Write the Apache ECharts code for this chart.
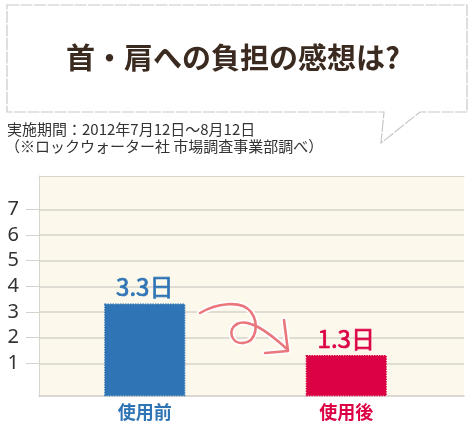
<!DOCTYPE html>
<html><head><meta charset="utf-8">
<script src="https://cdn.jsdelivr.net/npm/echarts@6/dist/echarts.min.js"></script>
<style>html,body{margin:0;padding:0;background:#fff}#c{width:476px;height:422px}</style>
</head><body><div id="c"></div>
<script>
const categories = ['使用前', '使用後'];
const values = [3.3, 1.3];
const valueUnit = '日';
const yTicks = [1, 2, 3, 4, 5, 6, 7];
const titleText = '首・肩への負担の感想は?';
const noteLines = ['実施期間：2012年7月12日～8月12日', '（※ロックウォーター社 市場調査事業部調べ）'];

const barColors = ['#2f74b5', '#dc0044'];
const Y_MIN = -0.27, Y_MAX = 8.3;
const CJK = '"Noto Sans CJK JP", "Noto Sans", sans-serif';
const GRID_LINE = '#d5d2cb';

// decorative hand-drawn arrow (bezier segments) between the bars
const arrowCurves = [
  [200, 313, 215, 304, 241, 299, 251, 312],
  [251, 312, 259, 323, 257, 342, 243, 343],
  [243, 343, 231, 344, 227, 329, 237, 324],
  [237, 324, 248, 318, 266, 330, 288, 350]
];
const arrowHead = [[284, 320], [288, 351], [265, 353]];

function arrowElements(stroke, width, z) {
  const els = arrowCurves.map(function (c) {
    return {type: 'bezierCurve', z: z,
      shape: {x1: c[0], y1: c[1], cpx1: c[2], cpy1: c[3], cpx2: c[4], cpy2: c[5], x2: c[6], y2: c[7]},
      style: {fill: null, stroke: stroke, lineWidth: width, lineCap: 'round'}};
  });
  els.push({type: 'polyline', z: z, shape: {points: arrowHead},
    style: {fill: null, stroke: stroke, lineWidth: width, lineCap: 'round', lineJoin: 'round'}});
  return els;
}

const chart = echarts.init(document.getElementById('c'), null, {renderer: 'canvas'});

const option = {
  backgroundColor: '#ffffff',
  animation: false,
  grid: [
    {left: 39, right: 12, top: 176, bottom: 26, show: true, backgroundColor: '#fcf8ec', borderWidth: 0},
    {left: 44, right: 29, top: 176, bottom: 26}
  ],
  xAxis: [
    {gridIndex: 0, type: 'value', min: 0, max: 1, position: 'bottom',
     axisLine: {show: true, onZero: false, lineStyle: {color: '#cfccc6', width: 1.5}}, axisTick: {show: false}, axisLabel: {show: false}, splitLine: {show: false}},
    {gridIndex: 0, type: 'value', min: 0, max: 1, position: 'top',
     axisLine: {show: true, onZero: false, lineStyle: {color: '#d8d5cf', width: 1}}, axisTick: {show: false}, axisLabel: {show: false}, splitLine: {show: false}},
    {gridIndex: 1, type: 'category', data: categories,
     axisLine: {show: false, onZero: false}, axisTick: {show: false}, splitLine: {show: false},
     axisLabel: {margin: 7, fontSize: 18, fontWeight: 'bold', fontFamily: CJK,
       color: function (v, i) { return barColors[i]; }}}
  ],
  yAxis: [
    {gridIndex: 0, type: 'value', min: Y_MIN, max: Y_MAX, position: 'left',
     axisLine: {show: true, onZero: false, lineStyle: {color: '#d8d5cf', width: 1}},
     axisTick: {show: true, length: 13, customValues: yTicks, lineStyle: {color: GRID_LINE, width: 1}},
     axisLabel: {customValues: yTicks, margin: 20, fontSize: 20, color: '#333', fontFamily: '"Noto Sans", sans-serif'},
     splitLine: {show: false}},
    {gridIndex: 1, type: 'value', min: Y_MIN, max: Y_MAX, show: false, splitLine: {show: false}},
    {gridIndex: 0, type: 'value', min: Y_MIN, max: Y_MAX, position: 'left', offset: 0,
     axisLine: {show: false, onZero: false},
     axisTick: {show: true, inside: true, length: 425, customValues: yTicks, lineStyle: {color: GRID_LINE, width: 1.5}},
     axisLabel: {show: false}, splitLine: {show: false}}
  ],
  series: [{
    type: 'custom',
    xAxisIndex: 2, yAxisIndex: 1,
    encode: {x: 0, y: 1},
    data: values.map(function (v, i) { return [i, v]; }),
    z: 5,
    renderItem: function (params, api) {
      const idx = api.value(0);
      const v = api.value(1);
      const top = api.coord([idx, v]);
      const base = api.coord([idx, Y_MIN]);
      const w = api.size([1, 0])[0] * 0.395;
      const color = barColors[params.dataIndex];
      return {type: 'group', children: [
        {type: 'rect', shape: {x: top[0] - w / 2, y: top[1], width: w, height: base[1] - top[1] - 0.5},
         style: {fill: color, stroke: color, lineWidth: 1.5, lineDash: [1.5, 1]}},
        {type: 'text', style: {text: v + valueUnit, x: top[0], y: top[1] - 5,
          align: 'center', verticalAlign: 'bottom', textAlign: 'center', textVerticalAlign: 'bottom',
          fill: color, stroke: color, lineWidth: 0.7, font: '24px ' + CJK}}
      ]};
    }
  }],
  graphic: [
    {type: 'polygon', z: 1,
     shape: {points: [[7, 5], [467, 5], [467, 112], [420, 112], [381, 143], [384, 112], [7, 112]]},
     style: {fill: '#ffffff', stroke: '#c8c8c8', lineWidth: 1.2, lineDash: [12, 1.5]}},
    {type: 'text', z: 2, style: {text: titleText, x: 233, y: 58, align: 'center', verticalAlign: 'middle',
      textAlign: 'center', textVerticalAlign: 'middle', fill: '#3b2a1f', font: 'bold 29px ' + CJK}},
    {type: 'text', z: 2, style: {text: noteLines[0], x: 7, y: 129, align: 'left', verticalAlign: 'middle',
      textAlign: 'left', textVerticalAlign: 'middle', fill: '#333', font: '15px ' + CJK}},
    {type: 'text', z: 2, style: {text: noteLines[1], x: 5, y: 146, align: 'left', verticalAlign: 'middle',
      textAlign: 'left', textVerticalAlign: 'middle', fill: '#333', font: '15px ' + CJK}}
  ].concat(arrowElements('#ffffff', 6, 10), arrowElements('#e9777b', 2.6, 11))
};
chart.setOption(option);
</script>
</body></html>
